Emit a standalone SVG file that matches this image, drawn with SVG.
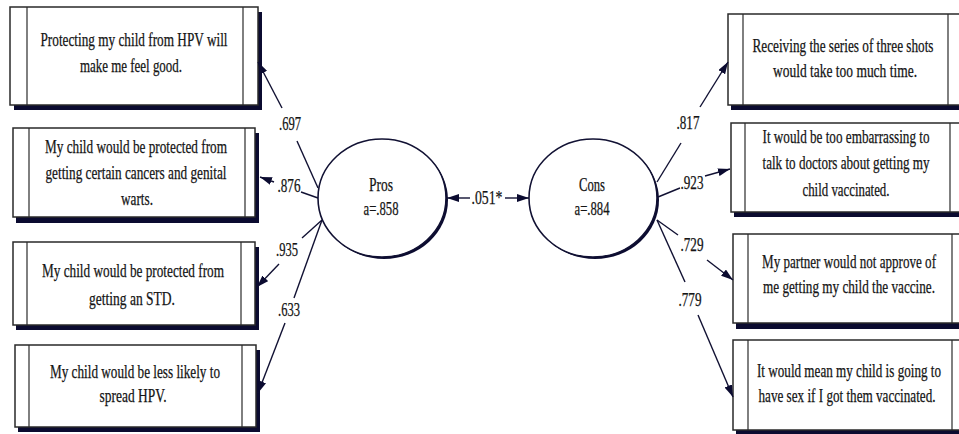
<svg xmlns="http://www.w3.org/2000/svg" width="959" height="434" viewBox="0 0 959 434">
<style>
text{font-family:"Liberation Serif","Times New Roman",serif;font-size:18px;fill:#151515;stroke:#151515;stroke-width:0.25;text-anchor:middle}
.box{fill:#fff;stroke:#2a2a2a;stroke-width:1.5}
.sh{fill:#0b0b30}
.div{stroke:#2a2a2a;stroke-width:1.2}
.ln{stroke:#111133;stroke-width:1.4;fill:none}
.ar{stroke:#111133;stroke-width:1.4;fill:none;marker-end:url(#ah)}
</style>
<defs>
<marker id="ah" viewBox="0 0 12 8" refX="12" refY="4" markerWidth="12" markerHeight="8" markerUnits="userSpaceOnUse" orient="auto">
<path d="M0,0 L12,4 L0,8 Z" fill="#0b0b30"/>
</marker>
</defs>
<rect width="959" height="434" fill="#fff"/>

<g id="box-l1">
<rect class="sh" x="14" y="12" width="248" height="98"/>
<rect class="box" x="10" y="7" width="248" height="98"/>
<line class="div" x1="27" y1="7" x2="27" y2="105"/><line class="div" x1="243" y1="7" x2="243" y2="105"/>
<text x="134" y="46" textLength="187" lengthAdjust="spacingAndGlyphs">Protecting my child from HPV will</text>
<text x="131" y="72" textLength="102" lengthAdjust="spacingAndGlyphs">make me feel good.</text>
</g>
<g id="box-l2">
<rect class="sh" x="16" y="133" width="243" height="90"/>
<rect class="box" x="13" y="128" width="242" height="89"/>
<line class="div" x1="29" y1="128" x2="29" y2="217"/><line class="div" x1="245" y1="128" x2="245" y2="217"/>
<text x="136" y="153" textLength="182" lengthAdjust="spacingAndGlyphs">My child would be protected from</text>
<text x="136" y="179" textLength="181" lengthAdjust="spacingAndGlyphs">getting certain cancers and genital</text>
<text x="137" y="205" textLength="32" lengthAdjust="spacingAndGlyphs">warts.</text>
</g>
<g id="box-l3">
<rect class="sh" x="16" y="247" width="243" height="83"/>
<rect class="box" x="13" y="242" width="242" height="83"/>
<line class="div" x1="27" y1="242" x2="27" y2="325"/><line class="div" x1="241" y1="242" x2="241" y2="325"/>
<text x="133" y="277" textLength="182" lengthAdjust="spacingAndGlyphs">My child would be protected from</text>
<text x="132" y="305" textLength="86" lengthAdjust="spacingAndGlyphs">getting an STD.</text>
</g>
<g id="box-l4">
<rect class="sh" x="18" y="350" width="242" height="82"/>
<rect class="box" x="15" y="345" width="241" height="82"/>
<line class="div" x1="29" y1="345" x2="29" y2="427"/><line class="div" x1="242" y1="345" x2="242" y2="427"/>
<text x="135" y="378" textLength="170" lengthAdjust="spacingAndGlyphs">My child would be less likely to</text>
<text x="133" y="402" textLength="67" lengthAdjust="spacingAndGlyphs">spread HPV.</text>
</g>

<g id="box-r1">
<rect class="sh" x="731" y="19" width="240" height="91"/>
<rect class="box" x="728" y="14" width="240" height="91"/>
<line class="div" x1="743" y1="14" x2="743" y2="105"/><line class="div" x1="948" y1="14" x2="948" y2="105"/>
<text x="843" y="52" textLength="181" lengthAdjust="spacingAndGlyphs">Receiving the series of three shots</text>
<text x="845" y="77" textLength="144" lengthAdjust="spacingAndGlyphs">would take too much time.</text>
</g>
<g id="box-r2">
<rect class="sh" x="734" y="128" width="240" height="89"/>
<rect class="box" x="731" y="123" width="240" height="89"/>
<line class="div" x1="745" y1="123" x2="745" y2="212"/><line class="div" x1="950" y1="123" x2="950" y2="212"/>
<text x="846" y="143" textLength="167" lengthAdjust="spacingAndGlyphs">It would be too embarrassing to</text>
<text x="846" y="169" textLength="167" lengthAdjust="spacingAndGlyphs">talk to doctors about getting my</text>
<text x="846" y="196" textLength="87" lengthAdjust="spacingAndGlyphs">child vaccinated.</text>
</g>
<g id="box-r3">
<rect class="sh" x="736" y="239" width="240" height="90"/>
<rect class="box" x="733" y="234" width="240" height="89"/>
<line class="div" x1="748" y1="234" x2="748" y2="323"/><line class="div" x1="952" y1="234" x2="952" y2="323"/>
<text x="849" y="268" textLength="174" lengthAdjust="spacingAndGlyphs">My partner would not approve of</text>
<text x="849" y="293" textLength="172" lengthAdjust="spacingAndGlyphs">me getting my child the vaccine.</text>
</g>
<g id="box-r4">
<rect class="sh" x="736" y="345" width="240" height="90"/>
<rect class="box" x="733" y="340" width="240" height="90"/>
<line class="div" x1="748" y1="340" x2="748" y2="430"/><line class="div" x1="952" y1="340" x2="952" y2="430"/>
<text x="849" y="377" textLength="184" lengthAdjust="spacingAndGlyphs">It would mean my child is going to</text>
<text x="847" y="402" textLength="177" lengthAdjust="spacingAndGlyphs">have sex if I got them vaccinated.</text>
</g>

<g id="pros">
<ellipse cx="384" cy="200" rx="64" ry="59" fill="#0b0b30"/>
<ellipse cx="382" cy="198" rx="64" ry="59" fill="#fff" stroke="#111133" stroke-width="1.6"/>
<text x="381" y="191" textLength="24" lengthAdjust="spacingAndGlyphs">Pros</text>
<text x="381" y="215" textLength="35" lengthAdjust="spacingAndGlyphs">a=.858</text>
</g>
<g id="cons">
<ellipse cx="595" cy="200" rx="64" ry="59" fill="#0b0b30"/>
<ellipse cx="593" cy="198" rx="64" ry="59" fill="#fff" stroke="#111133" stroke-width="1.6"/>
<text x="592" y="191" textLength="26" lengthAdjust="spacingAndGlyphs">Cons</text>
<text x="592" y="215" textLength="35" lengthAdjust="spacingAndGlyphs">a=.884</text>
</g>

<g id="connectors">
<line class="ln" x1="318" y1="188" x2="297" y2="141"/>
<line class="ar" x1="282" y1="108" x2="258" y2="62"/>
<line class="ln" x1="318" y1="198" x2="301" y2="192"/>
<line class="ar" x1="274" y1="182" x2="260" y2="177"/>
<line class="ln" x1="322" y1="220" x2="302" y2="238"/>
<line class="ar" x1="279" y1="264" x2="257" y2="287"/>
<line class="ln" x1="322" y1="220" x2="294" y2="298"/>
<line class="ar" x1="285" y1="323" x2="258" y2="393"/>

<line class="ar" x1="470" y1="198" x2="447" y2="198"/>
<line class="ar" x1="505" y1="198" x2="529" y2="198"/>

<line class="ln" x1="657" y1="182" x2="681" y2="143"/>
<line class="ar" x1="700" y1="107" x2="728" y2="62"/>
<line class="ln" x1="658" y1="197" x2="680" y2="188"/>
<line class="ar" x1="705" y1="176" x2="730" y2="169"/>
<line class="ln" x1="657" y1="220" x2="678" y2="235"/>
<line class="ar" x1="707" y1="260" x2="733" y2="280"/>
<line class="ln" x1="657" y1="220" x2="685" y2="282"/>
<line class="ar" x1="698" y1="315" x2="733" y2="397"/>

<text x="290" y="130" textLength="22" lengthAdjust="spacingAndGlyphs">.697</text>
<text x="289" y="192" textLength="23" lengthAdjust="spacingAndGlyphs">.876</text>
<text x="287" y="256" textLength="22" lengthAdjust="spacingAndGlyphs">.935</text>
<text x="289" y="316" textLength="22" lengthAdjust="spacingAndGlyphs">.633</text>
<text x="487" y="204" textLength="31" lengthAdjust="spacingAndGlyphs">.051*</text>
<text x="688" y="129" textLength="23" lengthAdjust="spacingAndGlyphs">.817</text>
<text x="692" y="189" textLength="23" lengthAdjust="spacingAndGlyphs">.923</text>
<text x="692" y="251" textLength="23" lengthAdjust="spacingAndGlyphs">.729</text>
<text x="690" y="306" textLength="23" lengthAdjust="spacingAndGlyphs">.779</text>
</g>
</svg>
